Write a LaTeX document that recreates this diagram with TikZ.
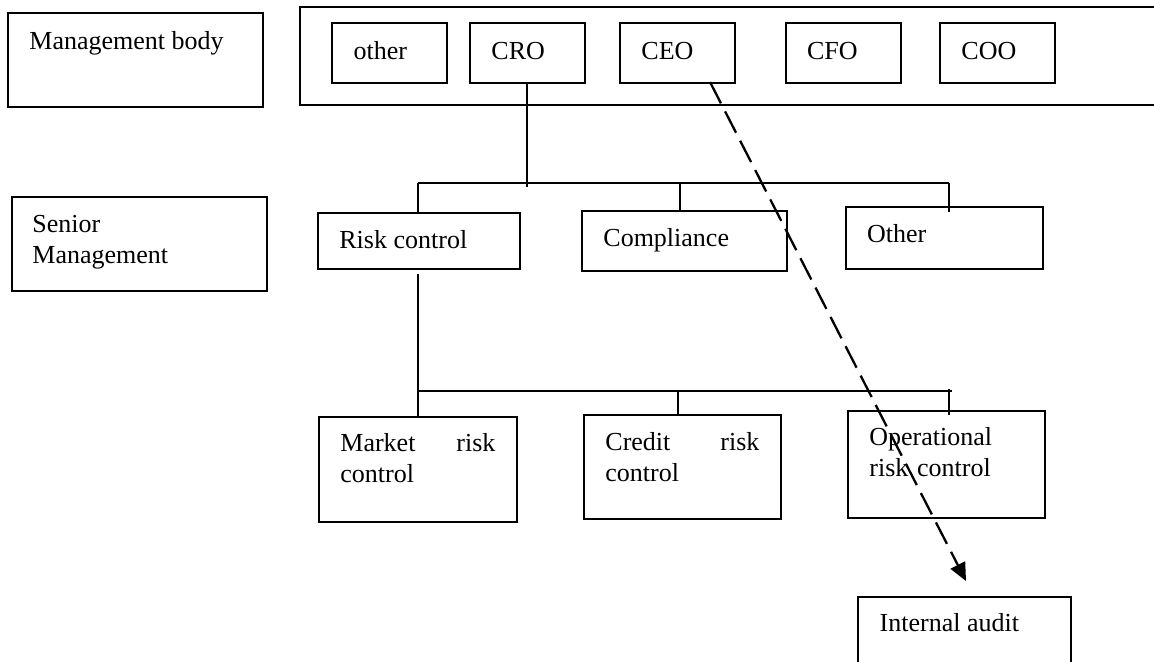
\documentclass[tikz,border=0pt]{standalone}
\usepackage{fontspec}
\setmainfont{Liberation Serif}
\usetikzlibrary{fit,arrows.meta}
\begin{document}
\begin{tikzpicture}[x=0.5pt,y=-0.5pt,
  box/.style={draw, line width=1pt, inner sep=0pt},
  lbl/.style={anchor=base west, inner sep=0pt, font=\fontsize{13pt}{15.5pt}\selectfont},
  lbltwo/.style={lbl, text width=#1, align=left},
  conn/.style={line width=1pt},
  dashedarrow/.style={line width=1.15pt, dash pattern=on 12pt off 4.5pt, -{Triangle[length=9pt,width=8pt]}}]
\useasboundingbox (0,0) rectangle (1154,661);
\clip (0,0) rectangle (1154,661);
\fill[white] (0,0) rectangle (1154,661);

% Row labels
\node[box, fit={(8,13) (263,107)}] (mb) {};
\node[lbl] (mbt) at (29,49) {Management body};
\node[box, fit={(11.7,196.7) (266.7,291)}] (sm) {};
\node[lbltwo=100pt] (smt) at (32,232) {Senior\\Management};

% Management body container
\node[box, fit={(299.5,7) (1180,105)}] (mgmt) {};
\node[box, fit={(331.7,22.7) (446.7,83)}] (oth1) {};
\node[lbl] at (353.3,59.3) {other};
\node[box, fit={(470,22.7) (585,83)}] (cro) {};
\node[lbl] at (491,59.3) {CRO};
\node[box, fit={(620,22.7) (735,83)}] (ceo) {};
\node[lbl] at (641,59.3) {CEO};
\node[box, fit={(786,22.7) (900.7,83)}] (cfo) {};
\node[lbl] at (806.7,59.3) {CFO};
\node[box, fit={(940,22.7) (1055,83)}] (coo) {};
\node[lbl] at (961,59.3) {COO};

% Senior management level
\node[box, fit={(317.7,213.3) (520.3,269)}] (rc) {};
\node[lbl] at (339,248) {Risk control};
\node[box, fit={(582.3,211) (786.7,271)}] (comp) {};
\node[lbl] at (603,246.7) {Compliance};
\node[box, fit={(846,206.7) (1043.3,269.3)}] (oth2) {};
\node[lbl] at (866.7,242.7) {Other};

% Risk control level
\node[box, fit={(319.3,417.3) (516.7,521.5)}] (mkt) {};
\node[lbltwo=77.5pt] at (340,451.7) {Market\hfill risk\\control};
\node[box, fit={(584,415) (781,519.3)}] (cred) {};
\node[lbltwo=77pt] at (605,450) {Credit\hfill risk\\control};
\node[box, fit={(847.7,411) (1045,517.7)}] (op) {};
\node[lbltwo=100pt] at (869,445) {Operational\\risk control};

% Internal audit
\node[box, fit={(857.7,596.7) (1070.7,720)}] (ia) {};
\node[lbl] at (879.3,631.7) {Internal audit};

% Connectors, first level
\coordinate (croend) at (526.5,187);
\coordinate (busAl) at (418,183);
\coordinate (busAm) at (680,183);
\coordinate (busAr) at (949,183);
\coordinate (othin) at (949,212.3);
\draw[conn] (cro.south -| croend) -- (croend);
\draw[conn] (busAl) -- (busAr);
\draw[conn] (busAl) -- (busAl |- rc.north);
\draw[conn] (busAm) -- (busAm |- comp.north);
\draw[conn] (busAr) -- (othin);

% Connectors, second level
\coordinate (rcout) at (418,274);
\coordinate (busBl) at (418,391);
\coordinate (busBm) at (678.3,391);
\coordinate (busBr) at (951.7,391);
\coordinate (optop) at (949,388.5);
\coordinate (opin) at (949,415);
\draw[conn] (rcout) -- (busBl);
\draw[conn] (busBl) -- (busBr);
\draw[conn] (busBl) -- (busBl |- mkt.north);
\draw[conn] (busBm) -- (busBm |- cred.north);
\draw[conn] (optop) -- (opin);

% Dashed arrow CEO -> Internal audit
\coordinate (ceoout) at (710,82);
\coordinate (tip) at (966,581);
\draw[dashedarrow] (ceoout) -- (tip);
\end{tikzpicture}
\end{document}
